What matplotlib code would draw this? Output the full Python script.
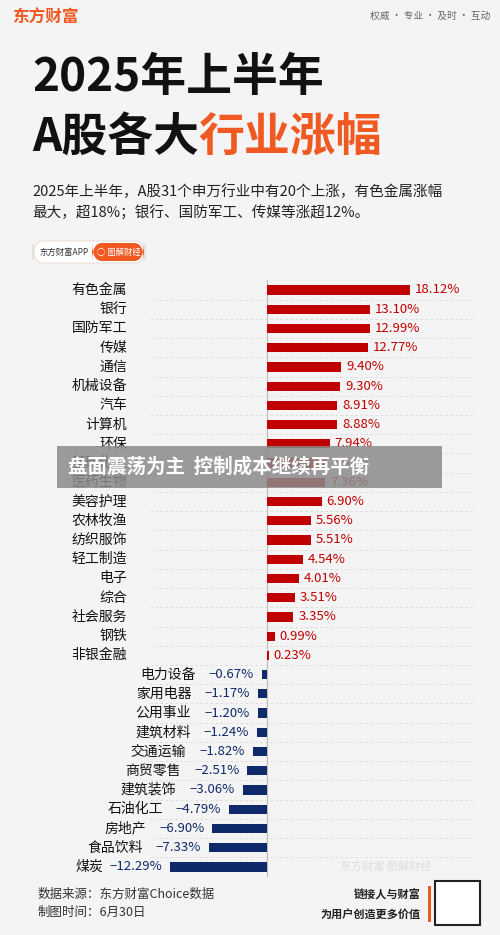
import matplotlib
matplotlib.use("Agg")
import matplotlib.pyplot as plt
from matplotlib.patches import FancyBboxPatch, Rectangle

plt.rcParams['font.family'] = ['Noto Sans CJK SC', 'DejaVu Sans']

categories = ["有色金属","银行","国防军工","传媒","通信","机械设备","汽车","计算机","环保","基础化工",
              "医药生物","美容护理","农林牧渔","纺织服饰","轻工制造","电子","综合","社会服务","钢铁","非银金融",
              "电力设备","家用电器","公用事业","建筑材料","交通运输","商贸零售","建筑装饰","石油化工","房地产","食品饮料","煤炭"]
values = [18.12,13.10,12.99,12.77,9.40,9.30,8.91,8.88,7.94,7.59,
          7.36,6.90,5.56,5.51,4.54,4.01,3.51,3.35,0.99,0.23,
          -0.67,-1.17,-1.20,-1.24,-1.82,-2.51,-3.06,-4.79,-6.90,-7.33,-12.29]

W, H = 500, 935
fig = plt.figure(figsize=(5, 9.35), dpi=100)
fig.patch.set_facecolor('#F4F4F4')

def ft(x, y, s, **kw):
    return fig.text(x / W, 1 - y / H, s, **kw)

# header
ft(12, 18, "东方财富", fontsize=12, color='#F05A22', weight='bold', va='center')
ft(370, 16, "权威 · 专业 · 及时 · 互动", fontsize=7, color='#666666', va='center', style='italic')
ft(32, 78, "2025年上半年", fontsize=33, weight='bold', color='#111111', va='center')
ft(32, 138, "A股各大", fontsize=33, weight='bold', color='#111111', va='center')
ft(198, 138, "行业涨幅", fontsize=33, weight='bold', color='#F05A22', va='center')
ft(32, 192, "2025年上半年，A股31个申万行业中有20个上涨，有色金属涨幅", fontsize=10.5, color='#222222', va='center')
ft(32, 213, "最大，超18%；银行、国防军工、传媒等涨超12%。", fontsize=10.5, color='#222222', va='center')
fig.patches.append(FancyBboxPatch((33 / W, 1 - 263 / H), 112 / W, 22 / H,
                                  boxstyle="round,pad=0,rounding_size=0.02", transform=fig.transFigure,
                                  fc='white', ec='#E8E0D8', lw=0.8))
fig.patches.append(FancyBboxPatch((92 / W, 1 - 261 / H), 52 / W, 18 / H,
                                  boxstyle="round,pad=0,rounding_size=0.02", transform=fig.transFigure,
                                  fc='#F05A22', ec='none'))
ft(39, 252, "东方财富APP", fontsize=6, color='#333333', va='center')
ft(97, 252, "◯ 图解财经", fontsize=6, color='white', va='center')

# chart axes spanning full width
scale = 7.9
zero_px = 267
y0, dy = 290, 19.23
top_px, bot_px = 280, 877
ax = fig.add_axes([0, 1 - bot_px / H, 1, (bot_px - top_px) / H])
ax.set_xlim(-zero_px / scale, (W - zero_px) / scale)
ax.set_ylim((bot_px - y0) / dy, (top_px - y0) / dy)
ax.axis('off')

n = len(categories)
for i in range(n - 1):
    ax.plot([(150 - zero_px) / scale, (475 - zero_px) / scale], [i + 0.5, i + 0.5],
            ls=(0, (3, 3)), color='#D8D8D8', lw=0.6, zorder=0)
ax.plot([0, 0], [-0.5, n - 0.5], color='#BBBBBB', lw=0.8, zorder=1)

red, navy = '#C00000', '#0E2A6A'
cols = [red if v >= 0 else navy for v in values]
ax.barh(range(n), values, height=0.48, color=cols, zorder=2)

for i, (c, v) in enumerate(zip(categories, values)):
    if v >= 0:
        ax.text(v + 0.6, i, f"{v:.2f}%", color=red, fontsize=9.5, va='center', ha='left')
        ax.text((127 - zero_px) / scale, i, c, fontsize=10, color='#111111', va='center', ha='right')
    else:
        ax.text(v - 1.0, i, f"\u2212{abs(v):.2f}%", color=navy, fontsize=9.5, va='center', ha='right')
        ax.text(v - 8.4, i, c, fontsize=10, color='#111111', va='center', ha='right')

ax.text((340 - zero_px) / scale, n - 1, "东方财富 图解财经", fontsize=8, color='#DDDDDD', va='center')

# overlay band
fig.patches.append(Rectangle((57 / W, 1 - 488 / H), 385 / W, 42 / H, transform=fig.transFigure,
                             fc='#8A8A8A', alpha=0.85, ec='none', zorder=10))
ft(68, 467, "盘面震荡为主  控制成本继续再平衡", fontsize=14, weight='bold',
   color='white', va='center', zorder=11)

# footer
ft(38, 894, "数据来源：东方财富Choice数据", fontsize=9, color='#333333', va='center')
ft(38, 912, "制图时间：6月30日", fontsize=9, color='#333333', va='center')
ft(421, 895, "链接人与财富", fontsize=8, color='#222222', weight='bold', va='center', ha='right')
ft(421, 914, "为用户创造更多价值", fontsize=8, color='#222222', weight='bold', va='center', ha='right')
fig.patches.append(Rectangle((428 / W, 1 - 922 / H), 2.5 / W, 36 / H, transform=fig.transFigure,
                             fc='#F05A22', ec='none'))
fig.patches.append(Rectangle((435 / W, 1 - 925 / H), 45 / W, 44 / H, transform=fig.transFigure,
                             fc='white', ec='#222222', lw=1.5))

fig.savefig("out.png", dpi=100, facecolor=fig.get_facecolor())
